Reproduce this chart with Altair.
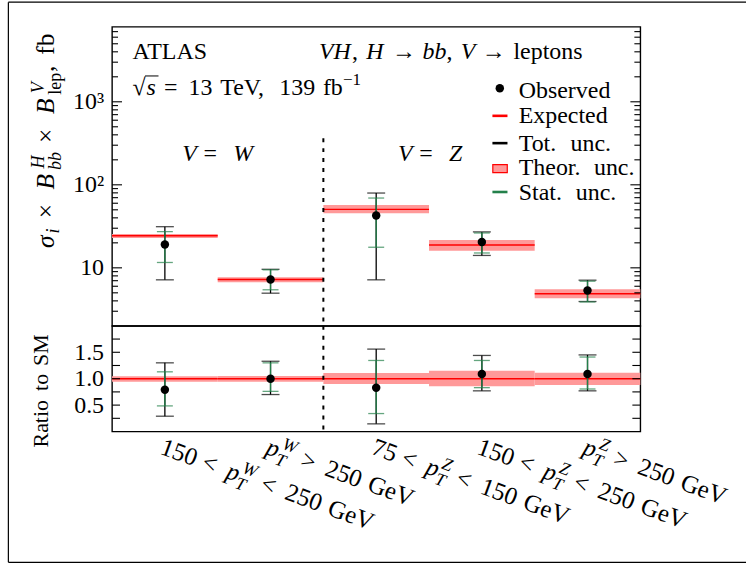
import math
import altair as alt
import pandas as pd

# ---------------- data ----------------
bins = [0, 1, 2, 3, 4]
expected = [24.3, 7.23, 50.6, 18.9, 4.87]
theory_lo = [22.9, 6.71, 45.3, 16.1, 4.31]
theory_hi = [25.6, 7.71, 57.1, 21.7, 5.53]
observed = [19.1, 7.23, 42.8, 20.5, 5.33]
total_lo = [7.17, 4.95, 7.17, 14.1, 3.93]
total_hi = [31.3, 9.6, 79.6, 27.1, 7.1]
stat_lo = [11.6, 5.44, 17.7, 15.1, 3.88]
stat_hi = [27.3, 9.46, 69.3, 26.3, 6.9]

ratio_obs = [0.79, 1.00, 0.83, 1.09, 1.09]
ratio_total_lo = [0.29, 0.70, 0.145, 0.77, 0.77]
ratio_total_hi = [1.30, 1.33, 1.56, 1.44, 1.45]
ratio_stat_lo = [0.485, 0.76, 0.34, 0.83, 0.805]
ratio_stat_hi = [1.13, 1.30, 1.345, 1.345, 1.41]
ratio_theory_lo = [0.94, 0.94, 0.90, 0.855, 0.88]
ratio_theory_hi = [1.045, 1.05, 1.108, 1.15, 1.113]

top_tick_values = [10, 100, 1000]
top_tick_labels = ["10", "10²", "10³"]
ratio_tick_values = [0.5, 1.0, 1.5]
ratio_tick_labels = ["0.5", "1.0", "1.5"]

legend_names = ["Observed", "Expected", "Tot. unc.", "Theor. unc.", "Stat. unc."]

# x tick labels as token sequences: rm = roman, it = italic, ss = sub+sup, g = gap (em)
REL = lambda op: [("g", 0.278), ("rm", op), ("g", 0.278)]
x_labels = [
    [("rm", "150")] + REL("<") + [("it", "p"), ("ss", "T", "it", "W", "it")] + REL("<") + [("rm", "250"), ("g", 0.333), ("rm", "GeV")],
    [("it", "p"), ("ss", "T", "it", "W", "it")] + REL(">") + [("rm", "250"), ("g", 0.333), ("rm", "GeV")],
    [("rm", "75")] + REL("<") + [("it", "p"), ("ss", "T", "it", "Z", "it")] + REL("<") + [("rm", "150"), ("g", 0.333), ("rm", "GeV")],
    [("rm", "150")] + REL("<") + [("it", "p"), ("ss", "T", "it", "Z", "it")] + REL("<") + [("rm", "250"), ("g", 0.333), ("rm", "GeV")],
    [("it", "p"), ("ss", "T", "it", "Z", "it")] + REL(">") + [("rm", "250"), ("g", 0.333), ("rm", "GeV")],
]

# ---------------- style / layout ----------------
FONT = "Liberation Serif, DejaVu Serif, Times New Roman, serif"
W, H_TOP, H_BOT = 530, 300, 106
BIN_W = W / 5.0
BLACK, RED, PINK, GREEN = "black", "#ff0000", "#ff9999", "#23804a"

CM_RM = {" ": .333, "0": .5, "1": .5, "2": .5, "3": .5, "4": .5, "5": .5, "6": .5, "7": .5, "8": .5, "9": .5,
         "A": .75, "T": .722, "L": .625, "S": .556, "O": .778, "b": .556, "s": .394, "e": .444, "r": .392,
         "v": .528, "d": .556, "E": .681, "x": .528, "p": .556, "c": .444, "t": .389, "u": .556, "n": .556,
         ".": .278, ",": .278, "h": .556, "o": .5, "R": .736, "a": .5, "i": .278, "M": .917, "G": .785,
         "V": .75, "l": .278, "f": .306, "=": .778, "<": .778, ">": .778, "×": .778, "→": 1.0, "−": .778,
         "√": .6}
CM_IT = {"V": .583, "H": .831, "b": .429, "s": .469, "W": .944, "Z": .681, "p": .503, "T": .584,
         "σ": .571, "i": .345, "B": .759}
TM_RM = {" ": .25, "A": .722, "T": .611, "L": .611, "S": .556, "O": .722, "b": .5, "s": .389, "e": .444,
         "r": .333, "v": .5, "d": .5, "E": .611, "x": .5, "p": .5, "c": .444, "t": .278, "u": .5, "n": .5,
         ".": .25, ",": .25, "h": .5, "o": .5, "R": .667, "a": .444, "i": .278, "M": .889, "G": .722,
         "V": .722, "l": .278, "f": .333, "=": .564, "<": .564, ">": .564, "×": .564, "→": 1.0, "−": .564,
         "√": .549}
TM_IT = {"V": .611, "H": .722, "b": .5, "s": .389, "W": .833, "Z": .556, "p": .5, "T": .556,
         "σ": .55, "i": .278, "B": .611}


def tok_w(text, style, em, fs):
    cm = CM_IT if style == "it" else CM_RM
    tm = TM_IT if style == "it" else TM_RM
    a = sum(cm.get(ch, 0.5) for ch in text) * em
    b = sum(tm.get(ch, 0.5) for ch in text) * fs
    return max(a, b)


def place(tokens, ax, ay, ang=0.0, fs=24, adv=23.4):
    fss = fs * 0.71
    advs = adv * 0.7
    th = math.radians(ang)
    c, s = math.cos(th), math.sin(th)
    rows = []
    u = 0.0

    def put(text, style, size, uu, v):
        rows.append(dict(px=ax + uu * c - v * s, py=ay + uu * s + v * c, t=text, fs=size,
                         ang=ang % 360, it=(style == "it")))

    for tk in tokens:
        kind = tk[0]
        if kind == "g":
            u += tk[1] * adv
        elif kind in ("rm", "it"):
            put(tk[1], kind, fs, u, 0)
            u += tok_w(tk[1], kind, adv, fs)
        elif kind == "sup":
            put(tk[1], tk[2], fss, u, -0.42 * adv)
            u += tok_w(tk[1], tk[2], advs, fss)
        elif kind == "sub":
            put(tk[1], tk[2], fss, u, 0.2 * adv)
            u += tok_w(tk[1], tk[2], advs, fss)
        elif kind == "ss":
            put(tk[1], tk[2], fss, u, 0.27 * adv)
            put(tk[3], tk[4], fss, u + 1.5, -0.42 * adv)
            u += max(tok_w(tk[1], tk[2], advs, fss), tok_w(tk[3], tk[4], advs, fss) + 1.5)
    return rows, u


# all annotation text, in pixel coordinates relative to the top panel's origin
rows = []
r, _ = place([("rm", "ATLAS")], 20.6, 32.7); rows += r
r, _ = place([("it", "VH"), ("rm", ","), ("g", .333), ("it", "H"), ("g", .278), ("rm", "→"), ("g", .278),
              ("it", "bb"), ("rm", ","), ("g", .333), ("it", "V"), ("g", .278), ("rm", "→"), ("g", .333),
              ("rm", "leptons")], 207.6, 32.7); rows += r
sqrt_tokens = [("rm", "√"), ("it", "s"), ("g", .278), ("rm", "="), ("g", .278), ("rm", "13"), ("g", .333),
               ("rm", "TeV,"), ("g", .333), ("rm", "139"), ("g", .333), ("rm", "fb"), ("sup", "−1", "rm")]
r, _ = place(sqrt_tokens, 20.6, 68.3); rows += r
sq_x0 = 20.6 + tok_w("√", "rm", 23.4, 24) - 1.5
sq_x1 = sq_x0 + tok_w("s", "it", 23.4, 24) + 2.5
r, _ = place([("it", "V"), ("g", .278), ("rm", "="), ("g", .5), ("it", "W")], 70.5, 135); rows += r
r, _ = place([("it", "V"), ("g", .278), ("rm", "="), ("g", .5), ("it", "Z")], 287, 135); rows += r

# legend text
LEG_TX = 408
leg_base = [71, 96.7, 124.3, 149, 174]
for name, yb in zip(legend_names, leg_base):
    toks = []
    for k, wd in enumerate(name.split(" ")):
        if k:
            toks.append(("g", .333))
        toks.append(("rm", wd))
    r, _ = place(toks, LEG_TX, yb); rows += r

# y titles (rotated)
GX = .36
r, _ = place([("it", "σ"), ("sub", "i", "it"), ("g", GX), ("rm", "×"), ("g", GX), ("it", "B"),
              ("ss", "bb", "it", "H", "it"), ("g", GX), ("rm", "×"), ("g", GX), ("it", "B"),
              ("ss", "lep", "rm", "V", "it"), ("rm", ","), ("g", .4), ("rm", "fb")], -58, 222, 270,
             fs=25.5, adv=25.5); rows += r
r, _ = place([("rm", "Ratio"), ("g", .3), ("rm", "to"), ("g", .3), ("rm", "SM")], -64, 422, 270,
             fs=22, adv=21); rows += r

# x tick labels (rotated) anchored at the bin centres
LAB_ANG = 20
for i, toks in zip(bins, x_labels):
    r, _ = place(toks, (i + 0.5) * BIN_W - 6, 428, LAB_ANG, fs=25, adv=24.5); rows += r

ann = pd.DataFrame(rows)

# ---------------- tables ----------------
df = pd.DataFrame(dict(x0=[b for b in bins], x1=[b + 1 for b in bins], xc=[b + 0.5 for b in bins],
                       exp=expected, tlo=theory_lo, thi=theory_hi, obs=observed,
                       totlo=total_lo, tothi=total_hi, stlo=stat_lo, sthi=stat_hi))
dr = pd.DataFrame(dict(x0=[b for b in bins], x1=[b + 1 for b in bins], xc=[b + 0.5 for b in bins],
                       one=[1.0] * 5, tlo=ratio_theory_lo, thi=ratio_theory_hi, obs=ratio_obs,
                       totlo=ratio_total_lo, tothi=ratio_total_hi, stlo=ratio_stat_lo, sthi=ratio_stat_hi))

minor = []
for k in range(0, 4):
    for m in range(1, 10):
        v = m * 10 ** k
        if 2 < v < 8000:
            minor.append(dict(v=v, major=(m == 1)))
top_ticks = pd.DataFrame(minor)
top_major = top_ticks[top_ticks.major]
top_minor = top_ticks[~top_ticks.major]
ratio_ticks = pd.DataFrame(dict(v=[0.25, 0.5, 0.75, 1.0, 1.25, 1.5, 1.75]))
ONE = pd.DataFrame(dict(a=[0]))
DIV = pd.DataFrame(dict(xd=[2.0]))

xs = alt.Scale(domain=[0, 5], nice=False, zero=False)
ys_top = alt.Scale(type="log", domain=[2, 8000], nice=False)
ys_bot = alt.Scale(domain=[0, 2], nice=False, zero=False)

lab_top = " : ".join([f"datum.value == {v} ? '{l}'" for v, l in zip(top_tick_values, top_tick_labels)]) + " : ''"
lab_bot = " : ".join([f"abs(datum.value - {v}) < 0.01 ? '{l}'" for v, l in zip(ratio_tick_values, ratio_tick_labels)]) + " : ''"

axis_top = alt.Axis(values=top_tick_values, labelExpr=lab_top, ticks=False, domain=False, grid=False,
                    title=None, labelPadding=8.5, labelFont=FONT, labelFontSize=24, labelColor=BLACK)
axis_bot = alt.Axis(values=ratio_tick_values, labelExpr=lab_bot, ticks=False, domain=False, grid=False,
                    title=None, labelPadding=8.5, labelFont=FONT, labelFontSize=24, labelColor=BLACK)


def px_rule(x1, x2, y1, y2, color=BLACK, width=1.2):
    return alt.Chart(ONE).mark_rule(color=color, strokeWidth=width).encode(
        x=alt.value(x1), x2=alt.value(x2), y=alt.value(y1), y2=alt.value(y2))


def panel(data, yscale, axis, ticks_major, ticks_minor, maj_len, min_len):
    base = alt.Chart(data)
    band = base.mark_rect(color=PINK, opacity=1).encode(
        x=alt.X("x0:Q", scale=xs, axis=None), x2="x1:Q",
        y=alt.Y("tlo:Q", scale=yscale, axis=axis), y2="thi:Q")
    layers = [band]
    ycol = "exp:Q" if "exp" in data.columns else "one:Q"
    layers.append(base.mark_rule(color=RED, strokeWidth=1.5).encode(x="x0:Q", x2="x1:Q", y=ycol))
    layers.append(base.mark_rule(color=BLACK, strokeWidth=1.3).encode(x="xc:Q", y="totlo:Q", y2="tothi:Q"))
    for f in ("totlo:Q", "tothi:Q"):
        layers.append(base.mark_tick(color=BLACK, orient="horizontal", size=18, thickness=1.3).encode(x="xc:Q", y=f))
    layers.append(base.mark_rule(color=GREEN, strokeWidth=1.3).encode(x="xc:Q", y="stlo:Q", y2="sthi:Q"))
    for f in ("stlo:Q", "sthi:Q"):
        layers.append(base.mark_tick(color=GREEN, orient="horizontal", size=16, thickness=1.3).encode(x="xc:Q", y=f))
    layers.append(base.mark_circle(size=72, color=BLACK, opacity=1).encode(x="xc:Q", y="obs:Q"))
    for tdf, ln in ((ticks_major, maj_len), (ticks_minor, min_len)):
        if tdf is None or len(tdf) == 0:
            continue
        tb = alt.Chart(tdf)
        layers.append(tb.mark_rule(color=BLACK, strokeWidth=1.1).encode(
            x=alt.value(0), x2=alt.value(ln), y=alt.Y("v:Q", scale=yscale)))
        layers.append(tb.mark_rule(color=BLACK, strokeWidth=1.1).encode(
            x=alt.value(W - ln), x2=alt.value(W), y=alt.Y("v:Q", scale=yscale)))
    return layers


top_layers = panel(df, ys_top, axis_top, top_major, top_minor, 10, 6)
top_layers.append(alt.Chart(DIV).mark_rule(color=BLACK, strokeWidth=2, strokeDash=[4, 6]).encode(
    x=alt.X("xd:Q", scale=xs), y=alt.value(111.7), y2=alt.value(H_TOP)))

# legend glyphs
top_layers.append(alt.Chart(ONE).mark_circle(size=72, color=BLACK, opacity=1).encode(
    x=alt.value(389), y=alt.value(61.7)))
top_layers.append(px_rule(381.6, 396.7, 89.3, 89.3, RED, 2.6))
top_layers.append(px_rule(381.6, 396.7, 116.7, 116.7, BLACK, 2.6))
top_layers.append(alt.Chart(ONE).mark_rect(fill=PINK, stroke=RED, strokeWidth=1.2).encode(
    x=alt.value(382), x2=alt.value(396.5), y=alt.value(138.3), y2=alt.value(146.3)))
top_layers.append(px_rule(381.6, 396.7, 165.7, 165.7, GREEN, 2.6))
# bar of the square root
top_layers.append(px_rule(sq_x0, sq_x1, 68.3 - 19, 68.3 - 19, BLACK, 1.0))

# texts
for italic in (False, True):
    sub = ann[ann.it == italic]
    top_layers.append(alt.Chart(sub).mark_text(align="left", baseline="alphabetic", font=FONT, color=BLACK,
                                                fontStyle="italic" if italic else "normal").encode(
        x=alt.X("px:Q", scale=None), y=alt.Y("py:Q", scale=None), text="t:N",
        size=alt.Size("fs:Q", scale=None), angle=alt.Angle("ang:Q", scale=None)))

# outer frame (left, top, bottom edges)
FL, FT, FR, FB = -104.0, -24.7, 636.0, 537.2
top_layers.append(px_rule(FL, FL, FT, FB, BLACK, 1.2))
top_layers.append(px_rule(FL, FR, FT, FT, BLACK, 1.2))
top_layers.append(px_rule(FL, FR, FB, FB, BLACK, 1.2))

top = alt.layer(*top_layers).properties(width=W, height=H_TOP)

bot_layers = panel(dr, ys_bot, axis_bot, ratio_ticks, None, 8, 8)
bot_layers.append(alt.Chart(DIV).mark_rule(color=BLACK, strokeWidth=2, strokeDash=[4, 6]).encode(
    x=alt.X("xd:Q", scale=xs), y=alt.value(0), y2=alt.value(H_BOT)))
bottom = alt.layer(*bot_layers).properties(width=W, height=H_BOT)

chart = alt.vconcat(top, bottom, spacing=0, bounds="flush").properties(
    padding={"left": 6.4, "top": 0, "right": 0, "bottom": 0}, background="white"
).configure_view(stroke=BLACK, strokeWidth=1.4)

chart.save("out.html", embed_options={"renderer": "svg", "actions": False})
